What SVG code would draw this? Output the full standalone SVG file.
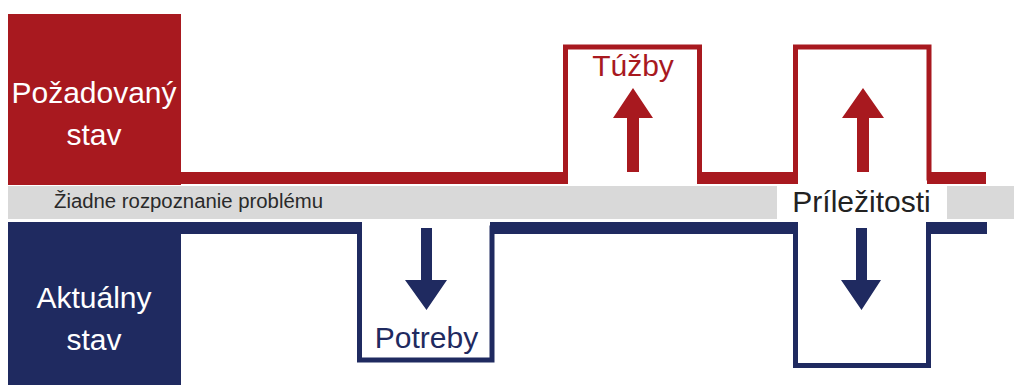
<svg xmlns="http://www.w3.org/2000/svg" width="1014" height="385" viewBox="0 0 1014 385">
<style>
.lbl{font-family:"Liberation Sans",Arial,sans-serif;font-size:30px;text-anchor:middle}
.w{fill:#ffffff}
.red{fill:#A8191F}
.blue{fill:#1F2A60}
.redln{fill:none;stroke:#A8191F;stroke-width:5}
.blueln{fill:none;stroke:#1F2A60;stroke-width:5}
.grey{fill:#D9D9D9}
</style>
<rect width="1014" height="385" fill="#ffffff"/>
<g id="desired-state">
<rect class="red" x="8" y="14" width="173" height="171"/>
<text class="lbl w" x="94" y="103">Požadovaný</text>
<text class="lbl w" x="94" y="145">stav</text>
</g>
<g id="current-state">
<rect class="blue" x="8" y="222" width="173" height="163"/>
<text class="lbl w" x="94" y="308">Aktuálny</text>
<text class="lbl w" x="94" y="350">stav</text>
</g>
<g id="no-recognition">
<rect class="grey" x="8" y="186" width="769" height="33"/>
<rect class="grey" x="947" y="186" width="67" height="33"/>
<text x="54" y="208" font-family="Liberation Sans, Arial, sans-serif" font-size="19.5" fill="#2a2a2a" textLength="269" lengthAdjust="spacingAndGlyphs">Žiadne rozpoznanie problému</text>
</g>
<g id="connectors">
<path class="redln" d="M181 178 H565.5 V47 H699.5 V178 H795.5 V47 H929 V178 H986"/>
<rect class="red" x="181" y="172" width="387" height="12"/>
<rect class="red" x="697" y="172" width="101" height="12"/>
<rect class="red" x="927" y="172" width="59" height="12"/>
<path class="blueln" d="M181 228 H359.5 V360 H492 V228 H795.5 V365.5 H928.5 V228 H987"/>
<rect class="blue" x="181" y="222" width="181" height="12"/>
<rect class="blue" x="490" y="222" width="308" height="12"/>
<rect class="blue" x="926" y="222" width="61" height="12"/>
<polygon class="red" points="633,88 653,118 639,118 639,172 627,172 627,118 613,118"/>
<polygon class="red" points="863,88 884,118 869,118 869,172 857,172 857,118 842,118"/>
<polygon class="blue" points="426.5,310 447,280 432,280 432,228 421,228 421,280 405,280"/>
<polygon class="blue" points="861.5,310 881,280 867,280 867,228 856,228 856,280 841,280"/>
</g>
<g id="tuzby">
<text class="lbl" x="633" y="76" fill="#A8191F" font-size="29">Túžby</text>
</g>
<g id="potreby">
<text class="lbl" x="426.5" y="348" fill="#1F2A60" font-size="29">Potreby</text>
</g>
<g id="prilezitosti">
<text class="lbl" x="861.5" y="212" fill="#222222">Príležitosti</text>
</g>
</svg>
